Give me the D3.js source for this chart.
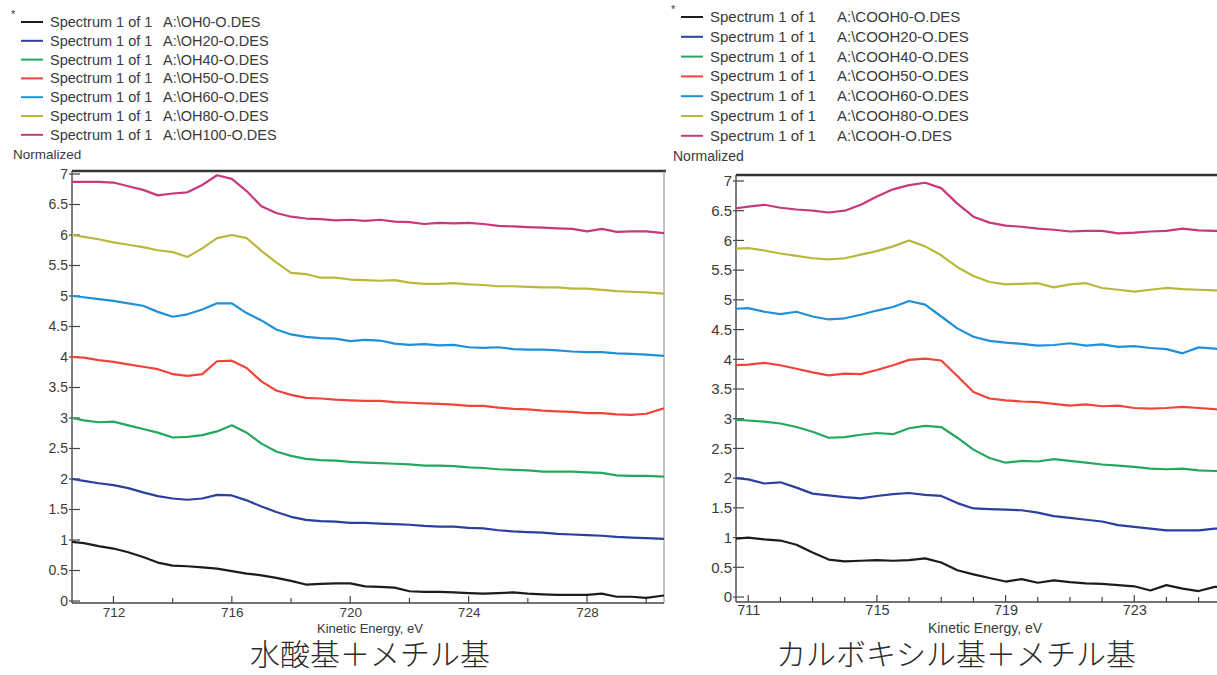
<!DOCTYPE html>
<html>
<head>
<meta charset="utf-8">
<script src="https://cdn.jsdelivr.net/npm/d3@7"></script>
<style>
  body { margin: 0; background: #fff; }
  svg { display: block; }
  text { font-family: "Liberation Sans", Arial, sans-serif; fill: #3a3a3a; }
  .caption { font-family: "Noto Sans CJK JP", sans-serif; font-weight: 300; fill: #2a2a2a; }
</style>
</head>
<body>
<svg id="chart" width="1217" height="675"></svg>
<script>
// series names and colours, same order for both panels
const seriesColors = ["#1c1c1c", "#2b3f9e", "#24a85c", "#f2433a", "#2090d8", "#b9b83c", "#c8387c"];
const leftFiles = ["A:\\OH0-O.DES", "A:\\OH20-O.DES", "A:\\OH40-O.DES", "A:\\OH50-O.DES", "A:\\OH60-O.DES", "A:\\OH80-O.DES", "A:\\OH100-O.DES"];
const rightFiles = ["A:\\COOH0-O.DES", "A:\\COOH20-O.DES", "A:\\COOH40-O.DES", "A:\\COOH50-O.DES", "A:\\COOH60-O.DES", "A:\\COOH80-O.DES", "A:\\COOH-O.DES"];
const yTicks = [0, 0.5, 1, 1.5, 2, 2.5, 3, 3.5, 4, 4.5, 5, 5.5, 6, 6.5, 7];
const leftXTicks = [712, 716, 720, 724, 728];
const leftXMinor = [714, 718, 722, 726, 730];
const rightXTicks = [711, 715, 719, 723];
const rightXMinor = [712, 713, 714, 716, 717, 718, 720, 721, 722, 724, 725];

// kinetic energy (eV) sample points
const leftEnergy = [710.6, 711, 711.5, 712, 712.5, 713, 713.5, 714, 714.5, 715, 715.5, 716, 716.5, 717, 717.5, 718, 718.5, 719, 719.5, 720,
  720.5, 721, 721.5, 722, 722.5, 723, 723.5, 724, 724.5, 725, 725.5, 726, 726.5, 727, 727.5, 728, 728.5, 729, 729.5, 730, 730.6];

// left panel: OH series (normalized, offset)
const oh0 = [0.97, 0.95, 0.90, 0.86, 0.80, 0.72, 0.63, 0.58, 0.57, 0.55, 0.53, 0.49, 0.45, 0.42, 0.38, 0.33, 0.27, 0.28, 0.29, 0.29,
  0.24, 0.23, 0.22, 0.16, 0.15, 0.15, 0.14, 0.13, 0.12, 0.13, 0.14, 0.12, 0.11, 0.10, 0.10, 0.10, 0.12, 0.07, 0.07, 0.05, 0.09];
const oh20 = [2.00, 1.97, 1.93, 1.90, 1.85, 1.78, 1.72, 1.68, 1.66, 1.68, 1.74, 1.73, 1.65, 1.55, 1.46, 1.38, 1.33, 1.31, 1.30, 1.28,
  1.28, 1.27, 1.26, 1.25, 1.23, 1.22, 1.22, 1.20, 1.19, 1.16, 1.14, 1.13, 1.12, 1.10, 1.09, 1.08, 1.07, 1.05, 1.04, 1.03, 1.02];
const oh40 = [3.00, 2.96, 2.93, 2.94, 2.88, 2.82, 2.76, 2.68, 2.69, 2.72, 2.78, 2.88, 2.76, 2.58, 2.45, 2.38, 2.33, 2.31, 2.30, 2.28,
  2.27, 2.26, 2.25, 2.24, 2.22, 2.22, 2.21, 2.19, 2.18, 2.16, 2.15, 2.14, 2.12, 2.12, 2.12, 2.11, 2.10, 2.06, 2.05, 2.05, 2.04];
const oh50 = [4.00, 3.99, 3.95, 3.92, 3.88, 3.84, 3.80, 3.72, 3.69, 3.72, 3.93, 3.94, 3.82, 3.60, 3.45, 3.38, 3.33, 3.32, 3.30, 3.29,
  3.28, 3.28, 3.26, 3.25, 3.24, 3.23, 3.22, 3.20, 3.20, 3.17, 3.15, 3.14, 3.12, 3.11, 3.10, 3.08, 3.08, 3.06, 3.05, 3.07, 3.16];
const oh60 = [5.00, 4.98, 4.95, 4.92, 4.88, 4.84, 4.74, 4.66, 4.70, 4.78, 4.88, 4.88, 4.72, 4.60, 4.45, 4.37, 4.33, 4.31, 4.30, 4.26,
  4.28, 4.27, 4.22, 4.20, 4.21, 4.19, 4.20, 4.16, 4.15, 4.16, 4.13, 4.12, 4.12, 4.11, 4.09, 4.08, 4.08, 4.06, 4.05, 4.04, 4.02];
const oh80 = [6.00, 5.97, 5.93, 5.88, 5.84, 5.80, 5.75, 5.72, 5.64, 5.78, 5.95, 6.00, 5.95, 5.74, 5.55, 5.38, 5.36, 5.30, 5.30, 5.27,
  5.26, 5.25, 5.26, 5.22, 5.20, 5.20, 5.21, 5.19, 5.18, 5.16, 5.16, 5.15, 5.14, 5.14, 5.12, 5.12, 5.10, 5.08, 5.07, 5.06, 5.04];
const oh100 = [6.87, 6.87, 6.87, 6.86, 6.80, 6.74, 6.65, 6.68, 6.70, 6.82, 6.98, 6.92, 6.72, 6.47, 6.36, 6.30, 6.27, 6.26, 6.24, 6.25,
  6.23, 6.25, 6.22, 6.21, 6.18, 6.20, 6.19, 6.20, 6.18, 6.15, 6.14, 6.13, 6.12, 6.11, 6.10, 6.06, 6.10, 6.05, 6.06, 6.06, 6.03];

const rightEnergy = [710.6, 711, 711.5, 712, 712.5, 713, 713.5, 714, 714.5, 715, 715.5, 716, 716.5, 717, 717.5, 718, 718.5, 719, 719.5, 720,
  720.5, 721, 721.5, 722, 722.5, 723, 723.5, 724, 724.5, 725, 725.5, 726];

// right panel: COOH series
const cooh0 = [0.98, 1.00, 0.97, 0.95, 0.88, 0.75, 0.63, 0.60, 0.61, 0.62, 0.61, 0.62, 0.65, 0.58, 0.45, 0.38, 0.32, 0.26, 0.30, 0.24,
  0.28, 0.25, 0.23, 0.22, 0.20, 0.18, 0.11, 0.20, 0.14, 0.10, 0.17, 0.18];
const cooh20 = [2.00, 1.98, 1.91, 1.93, 1.84, 1.74, 1.71, 1.68, 1.66, 1.70, 1.73, 1.75, 1.72, 1.70, 1.58, 1.49, 1.48, 1.47, 1.46, 1.42,
  1.36, 1.33, 1.30, 1.27, 1.21, 1.18, 1.15, 1.12, 1.12, 1.12, 1.15, 1.16];
const cooh40 = [2.98, 2.97, 2.95, 2.92, 2.86, 2.78, 2.68, 2.69, 2.73, 2.76, 2.74, 2.84, 2.88, 2.86, 2.68, 2.48, 2.34, 2.26, 2.29, 2.28,
  2.32, 2.29, 2.26, 2.23, 2.21, 2.19, 2.16, 2.15, 2.16, 2.13, 2.12, 2.12];
const cooh50 = [3.90, 3.91, 3.94, 3.90, 3.84, 3.78, 3.73, 3.76, 3.75, 3.82, 3.90, 3.99, 4.01, 3.98, 3.72, 3.45, 3.34, 3.31, 3.29, 3.28,
  3.25, 3.22, 3.24, 3.21, 3.22, 3.18, 3.17, 3.18, 3.20, 3.18, 3.16, 3.15];
const cooh60 = [4.85, 4.86, 4.80, 4.76, 4.80, 4.72, 4.67, 4.69, 4.75, 4.82, 4.88, 4.98, 4.92, 4.72, 4.52, 4.38, 4.31, 4.28, 4.26, 4.23,
  4.24, 4.27, 4.23, 4.25, 4.21, 4.22, 4.19, 4.17, 4.10, 4.20, 4.18, 4.14];
const cooh80 = [5.86, 5.87, 5.83, 5.78, 5.74, 5.70, 5.68, 5.70, 5.76, 5.82, 5.90, 6.00, 5.90, 5.75, 5.55, 5.40, 5.30, 5.26, 5.27, 5.28,
  5.21, 5.26, 5.28, 5.20, 5.17, 5.14, 5.17, 5.20, 5.18, 5.17, 5.16, 5.16];
const coohTop = [6.54, 6.57, 6.60, 6.55, 6.52, 6.50, 6.47, 6.50, 6.60, 6.74, 6.86, 6.93, 6.97, 6.88, 6.62, 6.40, 6.30, 6.25, 6.23, 6.20,
  6.18, 6.15, 6.16, 6.16, 6.12, 6.13, 6.15, 6.16, 6.20, 6.17, 6.16, 6.16];

const svg = d3.select("#chart");

function drawPanel(opt) {
    const g = svg.append("g");
    const x = d3.scaleLinear().domain(opt.xDomain).range([opt.left, opt.right]);
    const y = d3.scaleLinear().domain([0, 7]).range([opt.y0, opt.y7]);

    // legend
    opt.files.forEach((f, i) => {
        const cy = opt.legendTop + i * opt.legendStep;
        g.append("line")
            .attr("x1", opt.legendX).attr("x2", opt.legendX + 22)
            .attr("y1", cy).attr("y2", cy)
            .attr("stroke", seriesColors[i]).attr("stroke-width", 2);
        g.append("text").attr("x", opt.legendX + 29).attr("y", cy + 5)
            .style("font-size", opt.legendFont + "px").text("Spectrum 1 of 1");
        g.append("text").attr("x", opt.fileX).attr("y", cy + 5)
            .style("font-size", opt.legendFont + "px").text(f);
    });
    g.append("text").attr("x", opt.legendX - 10).attr("y", opt.legendTop - 4)
        .style("font-size", "11px").text("*");
    g.append("text").attr("x", opt.legendX - 8).attr("y", opt.legendTop + 7 * opt.legendStep + 5)
        .style("font-size", opt.legendFont - 1 + "px").text("Normalized");

    // frame
    g.append("line").attr("x1", opt.left).attr("x2", opt.right + 2)
        .attr("y1", opt.top).attr("y2", opt.top)
        .attr("stroke", "#333").attr("stroke-width", 2.5);
    g.append("line").attr("x1", opt.right).attr("x2", opt.right)
        .attr("y1", opt.top).attr("y2", opt.bottom)
        .attr("stroke", "#888").attr("stroke-width", 1);

    // y axis
    const yAxis = d3.axisLeft(y).tickValues(yTicks).tickSize(0).tickPadding(4)
        .tickFormat(d3.format("~g"));
    const ya = g.append("g").attr("transform", `translate(${opt.left},0)`).call(yAxis);
    ya.select(".domain").remove();
    ya.selectAll("text").style("font-size", opt.tickFont + "px").attr("fill", "#444");
    g.selectAll(null).data(yTicks).join("line")
        .attr("x1", opt.left - 3).attr("x2", opt.left + 8)
        .attr("y1", d => y(d)).attr("y2", d => y(d))
        .attr("stroke", "#444").attr("stroke-width", 1.2);
    g.append("line").attr("x1", opt.left).attr("x2", opt.left)
        .attr("y1", opt.top).attr("y2", opt.bottom)
        .attr("stroke", "#555").attr("stroke-width", 1.5);

    // x axis
    const xAxis = d3.axisBottom(x).tickValues(opt.xTicks).tickSize(0).tickPadding(opt.xPad)
        .tickFormat(d3.format("d"));
    const xa = g.append("g").attr("transform", `translate(0,${opt.bottom})`).call(xAxis);
    xa.select(".domain").remove();
    xa.selectAll("text").style("font-size", opt.xTickFont + "px").attr("fill", "#444");
    g.selectAll(null).data(opt.xTicks).join("line")
        .attr("x1", d => x(d)).attr("x2", d => x(d))
        .attr("y1", opt.bottom).attr("y2", opt.bottom - 7)
        .attr("stroke", "#444").attr("stroke-width", 1.2);
    g.selectAll(null).data(opt.xMinor).join("line")
        .attr("x1", d => x(d)).attr("x2", d => x(d))
        .attr("y1", opt.bottom).attr("y2", opt.bottom - 5)
        .attr("stroke", "#444").attr("stroke-width", 1.2);
    g.append("line").attr("x1", opt.left).attr("x2", opt.right)
        .attr("y1", opt.bottom).attr("y2", opt.bottom)
        .attr("stroke", "#444").attr("stroke-width", 1.5);

    g.append("text").attr("x", opt.labelX).attr("y", opt.labelY)
        .attr("text-anchor", "middle").style("font-size", opt.labelFont + "px")
        .attr("fill", "#444").text("Kinetic Energy, eV");

    // spectra
    const clipId = "clip" + opt.id;
    svg.append("clipPath").attr("id", clipId).append("rect")
        .attr("x", opt.left).attr("y", opt.top).attr("width", opt.right - opt.left).attr("height", opt.bottom - opt.top);
    const line = d3.line().x(d => x(d[0])).y(d => y(d[1]));
    opt.series.forEach((s, i) => {
        g.append("path")
            .datum(opt.energy.map((e, k) => [e, s[k]]))
            .attr("clip-path", `url(#${clipId})`)
            .attr("fill", "none").attr("stroke", seriesColors[i])
            .attr("stroke-width", 2.2).attr("stroke-linejoin", "round")
            .attr("d", line);
    });

    g.append("text").attr("class", "caption").attr("x", opt.captionX).attr("y", 665)
        .attr("text-anchor", "middle").style("font-size", "30px").text(opt.caption);
}

drawPanel({
    id: "L", files: leftFiles, energy: leftEnergy,
    series: [oh0, oh20, oh40, oh50, oh60, oh80, oh100],
    xDomain: [710.6, 730.6], left: 72, right: 664, top: 171, bottom: 603,
    y0: 601, y7: 174, xTicks: leftXTicks, xMinor: leftXMinor, xPad: 4,
    legendX: 21, legendTop: 22, legendStep: 18.8, fileX: 163, legendFont: 14.5,
    tickFont: 14, xTickFont: 13.5, labelFont: 13, labelX: 370, labelY: 633,
    captionX: 370, caption: "水酸基＋メチル基"
});

drawPanel({
    id: "R", files: rightFiles, energy: rightEnergy,
    series: [cooh0, cooh20, cooh40, cooh50, cooh60, cooh80, coohTop],
    xDomain: [710.62, 726.1], left: 736, right: 1234, top: 175, bottom: 602,
    y0: 597, y7: 181, xTicks: rightXTicks, xMinor: rightXMinor, xPad: 3,
    legendX: 681, legendTop: 17, legendStep: 19.8, fileX: 837, legendFont: 15,
    tickFont: 15, xTickFont: 14.5, labelFont: 14, labelX: 985, labelY: 633,
    captionX: 956, caption: "カルボキシル基＋メチル基"
});
</script>
</body>
</html>
